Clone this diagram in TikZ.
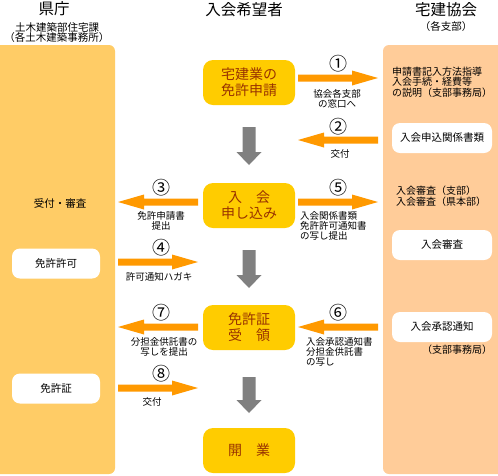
\documentclass[tikz,border=0pt]{standalone}
\usepackage{fontspec}
\setmainfont{Noto Sans CJK JP}
\definecolor{leftpanel}{HTML}{FFCC66}
\definecolor{rightpanel}{HTML}{FFCC99}
\definecolor{boxfill}{HTML}{FFCC00}
\definecolor{boxtext}{HTML}{993300}
\definecolor{orarr}{HTML}{FF9900}
\definecolor{grayarr}{HTML}{808080}
\newcommand\ArrR[3]{\fill[orarr] ({#1},{#3-3.5}) -- ({#2-26},{#3-3.5}) -- ({#2-26},{#3-7.5}) -- ({#2},{#3}) -- ({#2-26},{#3+7.5}) -- ({#2-26},{#3+3.5}) -- ({#1},{#3+3.5}) -- cycle;}
\newcommand\ArrL[3]{\fill[orarr] ({#2},{#3-3.5}) -- ({#1+26},{#3-3.5}) -- ({#1+26},{#3-7.5}) -- ({#1},{#3}) -- ({#1+26},{#3+7.5}) -- ({#1+26},{#3+3.5}) -- ({#2},{#3+3.5}) -- cycle;}
\newcommand\ArrD[2]{\fill[grayarr] (242.5,{#1}) -- (255.5,{#1}) -- (255.5,{#2-13}) -- (261.5,{#2-13}) -- (249,{#2}) -- (236.5,{#2-13}) -- (242.5,{#2-13}) -- cycle;}
\tikzset{
  mainbox/.style={fill=boxfill, text=boxtext, rounded corners=10pt, minimum width=92pt, minimum height=45pt, inner sep=0pt, align=center, font=\fontsize{14}{16}\selectfont},
  whitebox/.style={fill=white, rounded corners=8pt, minimum height=30pt, inner sep=0pt, font=\fontsize{10.5}{12}\selectfont},
  head/.style={font=\fontsize{15.5}{17}\selectfont, inner sep=0pt},
  subhead/.style={font=\fontsize{10.5}{11}\selectfont, inner sep=0pt, align=center},
  small/.style={font=\fontsize{9.5}{10.2}\selectfont, inner sep=0pt},
  num/.style={font=\fontsize{18}{18}\selectfont, inner sep=0pt},
}
\begin{document}
\begin{tikzpicture}[x=1pt,y=-1pt]
\useasboundingbox (0,0) rectangle (498,475);
\fill[white] (0,0) rectangle (498,475);
% panels
\fill[leftpanel, rounded corners=6pt] (-10,45) rectangle (115,474);
\fill[rightpanel, rounded corners=6pt] (383,45) rectangle (508,474);
% headers
\node[head] (hL) at (54,9) {県庁};
\node[subhead] (hL1) at (57,27) {土木建築部住宅課};
\node[subhead] (hL2) at (57,38) {（各土木建築事務所）};
\node[head] (hC) at (244,10) {入会希望者};
\node[head] (hR) at (446,10) {宅建協会};
\node[subhead] (hR1) at (446,27) {（各支部）};
% center boxes
\node[mainbox] (b1) at (249,82.5) {宅建業の\\免許申請};
\node[mainbox] (b2) at (249,205.5) {入　会\\申し込み};
\node[mainbox] (b3) at (249,327.5) {免許証\\受　領};
\node[mainbox] (b4) at (249,450.5) {開　業};
% gray arrows
\ArrD{127}{165}
\ArrD{250}{288}
\ArrD{377}{413}
% left panel content
\node[subhead] (l1) at (60,203) {受付・審査};
\node[whitebox, minimum width=88pt] (l2) at (56,263.5) {免許許可};
\node[whitebox, minimum width=88pt] (l3) at (56,388.5) {免許証};
% right panel content
\node[small, font=\fontsize{10}{10.5}\selectfont, align=left, anchor=west] (r1) at (392,82) {申請書記入方法指導\\入会手続・経費等\\の説明（支部事務局）};
\node[whitebox, minimum width=100pt] (r2) at (442,138) {入会申込関係書類};
\node[small, font=\fontsize{10}{11.5}\selectfont, align=left, anchor=west] (r3) at (396,196) {入会審査（支部）\\入会審査（県本部）};
\node[whitebox, minimum width=100pt] (r4) at (442,245) {入会審査};
\node[whitebox, minimum width=100pt] (r5) at (442,327) {入会承認通知};
\node[small, font=\fontsize{10}{11}\selectfont] (r6) at (457,350) {（支部事務局）};
% orange arrows
\ArrR{298}{378}{78}
\node[num] (n1) at (338,64) {①};
\node[small, align=center] (t1) at (337,99) {協会各支部\\の窓口へ};
\ArrL{298}{378}{140}
\node[num] (n2) at (338,127) {②};
\node[small] (t2) at (340,154) {交付};
\ArrL{118}{198}{202}
\node[num] (n3) at (161,188) {③};
\node[small, align=center] (t3) at (161,221) {免許申請書\\提出};
\ArrR{298}{378}{202}
\node[num] (n5) at (338,188) {⑤};
\node[small, align=left, anchor=west] (t5) at (300,226) {入会関係書類\\免許許可通知書\\の写し提出};
\ArrR{118}{198}{262}
\node[num] (n4) at (161,248) {④};
\node[small] (t4) at (159,277) {許可通知ハガキ};
\ArrL{118}{198}{327}
\node[num] (n7) at (161,313) {⑦};
\node[small, align=center] (t7) at (164,347) {分担金供託書の\\写しを提出};
\ArrL{298}{378}{327}
\node[num] (n6) at (338,313) {⑥};
\node[small, align=left, anchor=west] (t6) at (306,352) {入会承認通知書\\分担金供託書\\の写し};
\ArrR{118}{198}{388}
\node[num] (n8) at (161,374) {⑧};
\node[small] (t8) at (152,402) {交付};
\end{tikzpicture}
\end{document}
